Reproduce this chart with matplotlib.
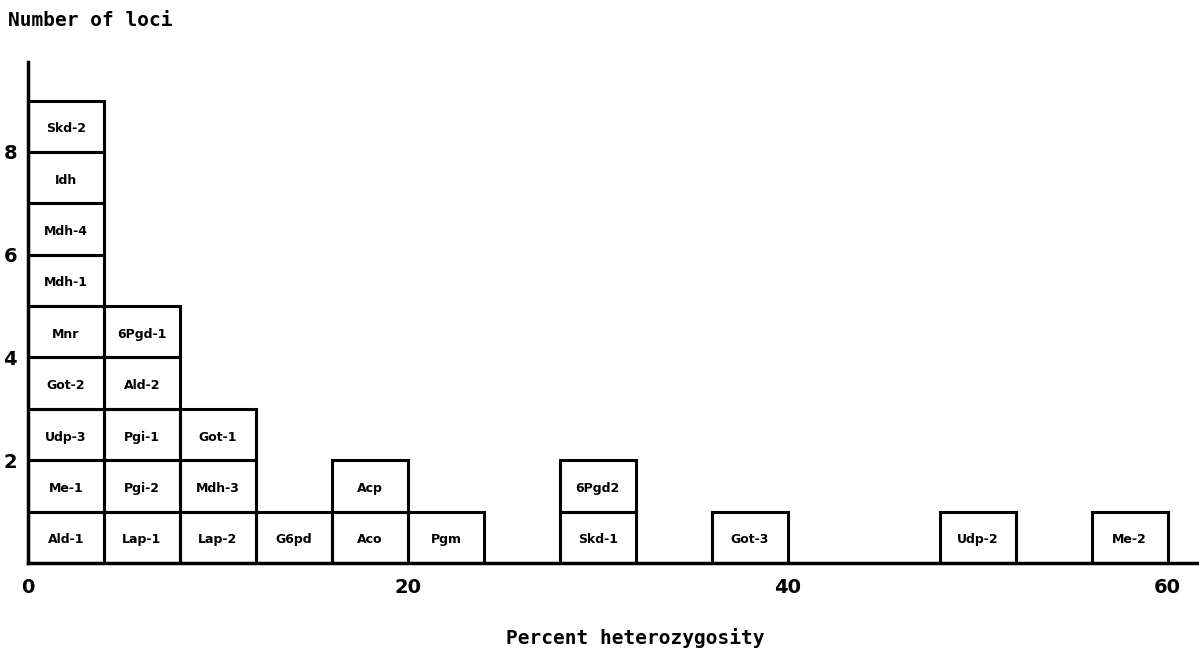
import matplotlib.pyplot as plt
from matplotlib.patches import Rectangle

# left edge of each 4% heterozygosity class and the loci stacked in it (bottom to top)
bin_starts = [0, 4, 8, 12, 16, 20, 28, 36, 48, 56]
bin_loci = [
    ['Ald-1', 'Me-1', 'Udp-3', 'Got-2', 'Mnr', 'Mdh-1', 'Mdh-4', 'Idh', 'Skd-2'],
    ['Lap-1', 'Pgi-2', 'Pgi-1', 'Ald-2', '6Pgd-1'],
    ['Lap-2', 'Mdh-3', 'Got-1'],
    ['G6pd'],
    ['Aco', 'Acp'],
    ['Pgm'],
    ['Skd-1', '6Pgd2'],
    ['Got-3'],
    ['Udp-2'],
    ['Me-2'],
]
bin_width = 4
x_ticks = [0, 20, 40, 60]
y_ticks = [2, 4, 6, 8]

fig = plt.figure(figsize=(11.99, 6.48), dpi=100)
ax = fig.add_axes([28 / 1199, 85 / 648, 1171 / 1199, 501 / 648])

for start, loci in zip(bin_starts, bin_loci):
    for i, name in enumerate(loci):
        ax.add_patch(Rectangle((start, i), bin_width, 1, fill=False,
                               edgecolor='black', linewidth=2.2))
        ax.text(start + bin_width / 2, i + 0.45, name, ha='center', va='center',
                fontsize=9, fontweight='bold')

ax.set_xlim(0, 61.65)
ax.set_ylim(0, 9.75)
for side in ['top', 'right']:
    ax.spines[side].set_visible(False)
for side in ['left', 'bottom']:
    ax.spines[side].set_linewidth(2.5)

ax.set_xticks(x_ticks)
ax.set_yticks(y_ticks)
ax.tick_params(length=0, labelsize=14, pad=11)
ax.tick_params(axis='y', pad=8)
for lbl in ax.get_xticklabels() + ax.get_yticklabels():
    lbl.set_fontweight('bold')

fig.text(8 / 1199, 1 - 20 / 648, 'Number of loci', fontsize=14, fontweight='bold',
         family='DejaVu Sans Mono', ha='left', va='center')
fig.text(635 / 1199, 1 - 638 / 648, 'Percent heterozygosity', fontsize=14,
         fontweight='bold', family='DejaVu Sans Mono', ha='center', va='center')

fig.savefig('out.png', dpi=100)
